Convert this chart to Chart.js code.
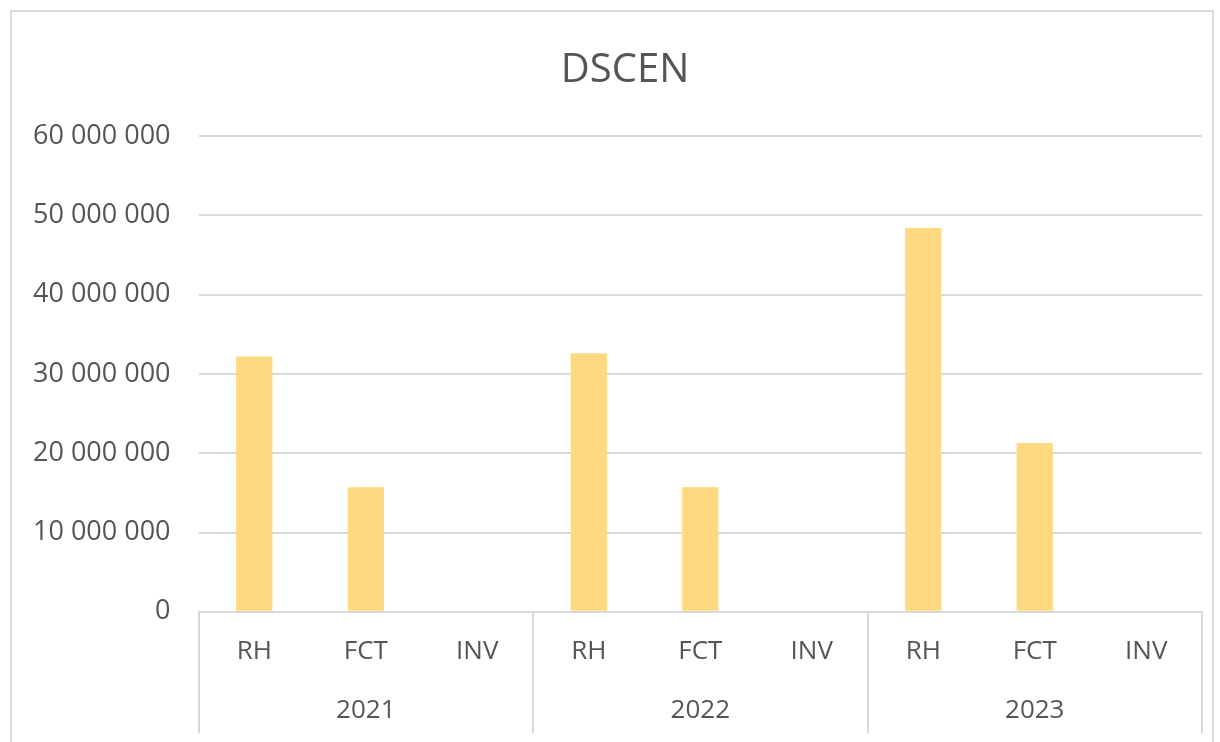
<!DOCTYPE html>
<html lang="en">
<head>
    <meta charset="UTF-8">
    <title>DSCEN</title>
    <script src="https://cdn.jsdelivr.net/npm/chart.js"></script>
    <style>
        body { margin: 0; background: #fff; overflow: hidden; }
        .chart-box { position: absolute; left: 10px; top: 10px; width: 1204px; height: 760px; border: 2px solid #d9d9d9; box-sizing: border-box; }
        .chart-title { position: absolute; left: 0; top: 43px; width: 1250px; margin: 0; text-align: center; font-family: 'Open Sans', sans-serif; font-size: 40px; font-weight: normal; line-height: 48px; color: #555555; }
    </style>
</head>
<body>

    <div class="chart-box">
        <canvas id="dscenChart"></canvas>
    </div>
    <!-- Title -->
    <h2 class="chart-title">DSCEN</h2>

    <script>
        // Data
        const years = ['2021', '2022', '2023'];
        const categories = ['RH', 'FCT', 'INV'];
        const values = [
            32200000, 15700000, 0,
            32600000, 15700000, 0,
            48400000, 21300000, 0
        ];
        const yTicks = [0, 10000000, 20000000, 30000000, 40000000, 50000000, 60000000];

        const labels = [];
        years.forEach(() => categories.forEach(c => labels.push(c)));

        const textColor = '#555555';
        const lineColor = '#d9d9d9';

        // Vertical separators between the year groups under the plot
        const groupLines = {
            id: 'groupLines',
            afterDraw(chart) {
                const x = chart.scales.x;
                const x2 = chart.scales.x2;
                const ctx = chart.ctx;
                const step = (x.right - x.left) / years.length;
                ctx.save();
                ctx.strokeStyle = lineColor;
                ctx.lineWidth = 2;
                for (let i = 0; i <= years.length; i++) {
                    const px = Math.round(x.left + i * step);
                    ctx.beginPath();
                    ctx.moveTo(px, chart.chartArea.bottom);
                    ctx.lineTo(px, x2.bottom);
                    ctx.stroke();
                }
                ctx.restore();
            }
        };

        const ctx = document.getElementById('dscenChart').getContext('2d');
        new Chart(ctx, {
            type: 'bar',
            data: {
                labels: labels,
                datasets: [{
                    label: 'DSCEN',
                    data: values,
                    backgroundColor: '#ffd97f',
                    barPercentage: 0.65,
                    categoryPercentage: 0.5
                }]
            },
            options: {
                responsive: true,
                maintainAspectRatio: false,
                animation: false,
                layout: { padding: { left: -7, right: 10, top: 124, bottom: 35 } },
                plugins: {
                    legend: { display: false },
                    tooltip: { enabled: false },
                    title: { display: false }
                },
                scales: {
                    x: {
                        grid: { display: false },
                        border: { color: lineColor, width: 2 },
                        ticks: {
                            color: textColor,
                            font: { family: 'Open Sans', size: 26 },
                            padding: 16
                        }
                    },
                    x2: {
                        type: 'category',
                        labels: years,
                        position: 'bottom',
                        grid: { display: false },
                        border: { display: false },
                        ticks: {
                            color: textColor,
                            font: { family: 'Open Sans', size: 26 },
                            padding: 4
                        },
                        afterFit(scale) { scale.height = 50; }
                    },
                    y: {
                        min: 0,
                        max: 60000000,
                        afterBuildTicks(scale) { scale.ticks = yTicks.map(v => ({ value: v })); },
                        grid: { color: lineColor, lineWidth: 2, drawTicks: false },
                        border: { display: false },
                        ticks: {
                            color: textColor,
                            font: { family: 'Open Sans', size: 27 },
                            padding: 28,
                            callback: v => v.toString().replace(/\B(?=(\d{3})+(?!\d))/g, ' ')
                        }
                    }
                }
            },
            plugins: [groupLines]
        });
    </script>

</body>
</html>
